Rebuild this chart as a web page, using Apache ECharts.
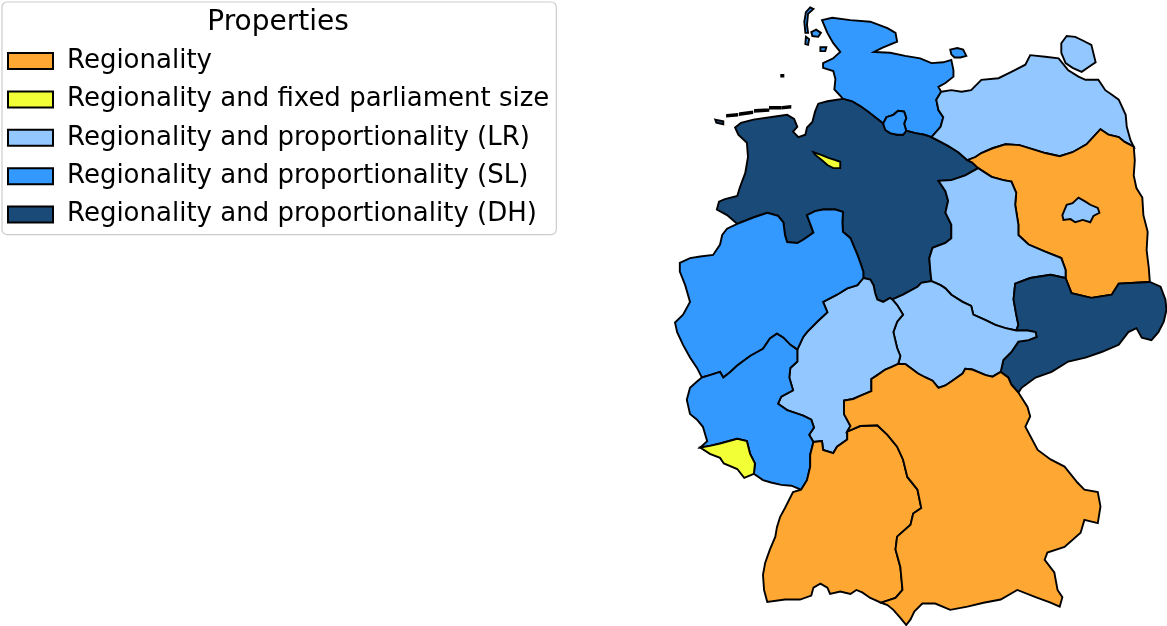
<!DOCTYPE html>
<html><head><meta charset="utf-8">
<script src="https://cdn.jsdelivr.net/npm/echarts@6/dist/echarts.min.js"></script>
<style>html,body{margin:0;padding:0;background:#fff}#c{width:1167px;height:626px}</style>
</head><body><div id="c"></div>
<script>
// ---------- legend categories & colours ----------
const categories = ['Regionality','Regionality and fixed parliament size','Regionality and proportionality (LR)','Regionality and proportionality (SL)','Regionality and proportionality (DH)'];
const categoryColors = ['#FFA733','#F2FF36','#92C8FF','#3399FF','#1A4A78'];
// ---------- which state has which property ----------
const regionality = ['Brandenburg','Baden-Württemberg','Bayern'];
const fixedSize = ['Bremen','Saarland'];
const proportionalityLR = ['Mecklenburg-Vorpommern','Berlin','Sachsen-Anhalt','Hessen','Thüringen'];
const proportionalitySL = ['Schleswig-Holstein','Hamburg','Nordrhein-Westfalen','Rheinland-Pfalz'];
const proportionalityDH = ['Niedersachsen','Sachsen'];

// ---------- simplified state borders (lon, lat) ----------
const arcShOuter = [[9.00,53.88],[8.95,53.92],[8.84,54.00],[8.86,54.13],[8.82,54.23],[8.63,54.27],[8.63,54.33],[8.82,54.39],[8.95,54.47],[8.82,54.58],[8.71,54.71],[8.61,54.87],[8.80,54.90],[9.14,54.87],[9.51,54.85],[9.83,54.77],[9.98,54.71],[10.01,54.60],[9.73,54.52],[9.58,54.47],[9.88,54.46],[10.16,54.42],[10.44,54.39],[10.65,54.33],[10.87,54.34],[11.02,54.37],[11.06,54.24],[11.06,54.16],[10.91,54.08],[10.78,54.03],[10.83,53.97]];
const arcShMv = [[10.83,53.97],[10.74,53.87],[10.78,53.74],[10.87,53.65],[10.82,53.53],[10.65,53.40]];
const arcShNiEast = [[10.18,53.48],[10.35,53.45],[10.52,53.43],[10.65,53.40]];
const arcShHh = [[9.75,53.57],[9.81,53.65],[9.94,53.68],[10.03,53.73],[10.14,53.72],[10.18,53.64],[10.14,53.57],[10.18,53.48]];
const arcHhNi = [[9.75,53.57],[9.79,53.49],[9.88,53.45],[10.01,53.43],[10.12,53.43],[10.18,53.48]];
const arcShNiWest = [[9.00,53.88],[9.17,53.85],[9.32,53.79],[9.47,53.72],[9.62,53.64],[9.75,53.57]];
const arcNiCoast = [[6.99,53.52],[7.10,53.58],[7.33,53.62],[7.64,53.65],[7.96,53.68],[8.09,53.63],[8.15,53.53],[8.07,53.47],[8.17,53.40],[8.30,53.43],[8.33,53.52],[8.43,53.59],[8.48,53.72],[8.54,53.82],[8.71,53.85],[8.89,53.87],[9.00,53.88]];
const arcNiNl = [[6.99,53.52],[7.05,53.43],[7.21,53.33],[7.23,53.15],[7.18,52.95],[7.08,52.77],[7.03,52.66],[6.80,52.62],[6.69,52.59],[6.65,52.49],[6.84,52.42],[7.03,52.31]];
const arcNiNrw = [[7.03,52.31],[7.33,52.39],[7.59,52.45],[7.79,52.41],[7.89,52.33],[7.92,52.17],[7.96,52.08],[8.15,52.07],[8.26,52.11],[8.45,52.20],[8.39,52.31],[8.33,52.42],[8.48,52.47],[8.63,52.49],[8.86,52.49],[9.00,52.46],[8.99,52.33],[9.00,52.21],[9.14,52.13],[9.19,52.05],[9.27,51.92],[9.32,51.83],[9.38,51.71],[9.38,51.63]];
const arcNiHe = [[9.38,51.63],[9.51,51.61],[9.57,51.54],[9.60,51.44],[9.64,51.36],[9.75,51.33],[9.88,51.38],[9.92,51.36]];
const arcNiTh = [[9.92,51.36],[10.12,51.42],[10.39,51.52],[10.46,51.57],[10.65,51.59]];
const arcNiSt = [[10.65,51.59],[10.63,51.71],[10.61,51.88],[10.67,52.01],[10.91,52.07],[11.02,52.13],[11.02,52.30],[10.91,52.45],[10.96,52.60],[10.91,52.72],[10.78,52.85],[11.02,52.86],[11.28,52.92],[11.52,53.01]];
const arcNiBb = [[11.52,53.01],[11.41,53.08],[11.32,53.11]];
const arcNiMv = [[11.32,53.11],[11.15,53.21],[10.96,53.29],[10.82,53.34],[10.65,53.40]];
const arcMvCoast = [[10.83,53.97],[11.02,53.99],[11.21,53.97],[11.39,53.99],[11.58,54.12],[11.90,54.14],[12.14,54.22],[12.40,54.31],[12.49,54.43],[12.77,54.41],[13.02,54.39],[13.20,54.24],[13.39,54.16],[13.52,54.12],[13.76,54.12],[13.89,53.99],[14.02,53.93],[14.14,53.87],[14.19,53.80]];
const arcMvPl = [[14.19,53.80],[14.27,53.68],[14.29,53.53],[14.36,53.36],[14.42,53.28]];
const arcMvBb = [[11.32,53.11],[11.47,53.15],[11.58,53.20],[11.79,53.26],[12.03,53.31],[12.29,53.30],[12.53,53.25],[12.77,53.20],[13.04,53.16],[13.28,53.21],[13.54,53.31],[13.80,53.50],[13.95,53.43],[14.14,53.40],[14.25,53.34],[14.42,53.28]];
const arcBbPl = [[14.42,53.28],[14.44,53.11],[14.42,52.92],[14.47,52.76],[14.58,52.64],[14.60,52.42],[14.68,52.21],[14.66,51.98],[14.70,51.76],[14.72,51.58]];
const arcBbSn = [[13.15,51.63],[13.26,51.44],[13.63,51.38],[14.01,51.42],[14.14,51.56],[14.45,51.57],[14.72,51.58]];
const arcStBb = [[11.52,53.01],[11.77,52.90],[11.99,52.86],[12.14,52.84],[12.23,52.70],[12.21,52.55],[12.27,52.30],[12.27,52.17],[12.46,52.05],[12.77,51.96],[13.07,51.88],[13.15,51.73],[13.15,51.63]];
const arcStSn = [[13.15,51.63],[12.87,51.67],[12.49,51.63],[12.21,51.56],[12.18,51.36],[12.23,51.17],[12.27,51.04],[12.23,50.97]];
const arcStTh = [[10.65,51.59],[10.82,51.54],[10.91,51.50],[11.02,51.42],[11.23,51.33],[11.39,51.28],[11.43,51.17],[11.66,51.10],[11.84,51.04],[12.03,51.00],[12.23,50.97]];
const arcSnTh = [[12.23,50.97],[12.44,50.97],[12.59,50.95],[12.61,50.89],[12.46,50.85],[12.27,50.83],[12.14,50.70],[11.99,50.60],[11.94,50.45]];
const arcSnBy = [[11.94,50.45],[12.08,50.38],[12.14,50.29],[12.27,50.19]];
const arcSnCz = [[12.27,50.19],[12.33,50.25],[12.59,50.38],[12.89,50.45],[13.20,50.58],[13.52,50.63],[13.82,50.70],[14.14,50.79],[14.32,50.95],[14.47,51.00],[14.57,50.88],[14.75,50.85],[14.88,50.95],[14.98,51.08],[15.03,51.23],[15.01,51.36],[14.92,51.52],[14.72,51.58]];
const arcThBy = [[10.03,50.55],[10.16,50.55],[10.40,50.43],[10.54,50.38],[10.67,50.34],[10.78,50.25],[10.91,50.28],[11.04,50.34],[11.23,50.43],[11.28,50.49],[11.41,50.48],[11.66,50.41],[11.79,50.39],[11.94,50.45]];
const arcHeTh = [[9.92,51.36],[10.01,51.29],[10.12,51.17],[10.01,51.08],[9.94,50.95],[10.01,50.75],[10.07,50.65],[10.03,50.55]];
const arcHeBy = [[10.03,50.55],[9.90,50.51],[9.79,50.48],[9.62,50.40],[9.53,50.36],[9.53,50.21],[9.32,50.15],[9.19,50.11],[9.02,50.09],[9.02,49.92],[9.14,49.77],[9.08,49.70]];
const arcBwBy = [[9.08,49.70],[9.32,49.77],[9.64,49.78],[9.83,49.66],[10.01,49.51],[10.12,49.35],[10.20,49.13],[10.39,48.97],[10.46,48.74],[10.31,48.67],[10.26,48.53],[10.01,48.38],[9.98,48.22],[10.07,48.00],[10.11,47.71],[9.98,47.61],[9.71,47.55]];
const arcBySouth = [[9.71,47.55],[9.83,47.52],[9.94,47.46],[10.07,47.36],[10.18,47.27],[10.26,47.34],[10.33,47.44],[10.48,47.54],[10.72,47.54],[11.00,47.46],[11.32,47.50],[11.62,47.55],[11.94,47.59],[12.25,47.71],[12.59,47.62],[12.87,47.55],[13.04,47.50],[13.09,47.62],[13.00,47.71],[12.94,47.93],[12.76,48.09],[12.81,48.18],[13.13,48.25],[13.43,48.43],[13.50,48.59],[13.75,48.55],[13.80,48.76],[13.75,48.94],[13.50,48.97],[13.37,49.06],[13.13,49.26],[12.87,49.35],[12.63,49.47],[12.40,49.76],[12.49,49.89],[12.44,50.01],[12.27,50.19]];
const arcHeBw = [[9.08,49.70],[9.08,49.60],[8.89,49.51],[8.82,49.43],[8.63,49.47],[8.61,49.58],[8.45,49.57]];
const arcRpBw = [[8.45,49.57],[8.39,49.41],[8.39,49.26],[8.33,49.09],[8.22,48.97]];
const arcBwWestSouth = [[8.22,48.97],[8.07,48.94],[7.92,48.74],[7.83,48.63],[7.77,48.50],[7.74,48.38],[7.64,48.22],[7.55,48.05],[7.51,47.90],[7.53,47.71],[7.59,47.56],[7.92,47.59],[8.20,47.59],[8.41,47.64],[8.45,47.74],[8.58,47.79],[8.71,47.74],[8.76,47.66],[8.95,47.69],[9.14,47.66],[9.25,47.71],[9.36,47.68],[9.51,47.61],[9.71,47.55]];
const arcHeRp = [[8.15,50.73],[8.15,50.58],[8.02,50.50],[8.00,50.38],[8.07,50.22],[7.85,50.14],[7.79,50.05],[7.96,49.97],[8.26,49.90],[8.41,49.85],[8.46,49.75],[8.37,49.66],[8.45,49.57]];
const arcNrwHe = [[8.15,50.73],[8.26,50.89],[8.33,50.95],[8.52,51.08],[8.71,51.20],[8.63,51.33],[8.89,51.42],[9.08,51.50],[9.27,51.54],[9.38,51.63]];
const arcNrwRp = [[6.37,50.38],[6.52,50.41],[6.71,50.45],[6.77,50.38],[6.90,50.45],[7.03,50.53],[7.27,50.65],[7.51,50.74],[7.64,50.87],[7.77,50.93],[7.89,50.88],[8.02,50.79],[8.15,50.73]];
const arcNrwWest = [[7.03,52.31],[6.84,52.25],[6.75,52.17],[6.71,52.05],[6.58,51.92],[6.34,51.90],[6.15,51.88],[5.96,51.82],[5.96,51.71],[6.06,51.54],[6.15,51.33],[6.02,51.17],[5.87,51.07],[5.91,50.95],[6.02,50.79],[6.15,50.63],[6.28,50.50],[6.37,50.38]];
const arcRpWest = [[6.37,50.38],[6.28,50.33],[6.15,50.25],[6.09,50.10],[6.15,49.92],[6.28,49.85],[6.39,49.76],[6.47,49.58],[6.34,49.50]];
const arcRpSl = [[6.34,49.50],[6.52,49.52],[6.71,49.55],[7.03,49.61],[7.21,49.58],[7.27,49.42],[7.36,49.30],[7.34,49.17]];
const arcSlFr = [[7.34,49.17],[7.16,49.12],[7.03,49.23],[6.78,49.30],[6.71,49.37],[6.52,49.42],[6.34,49.50]];
const arcRpFr = [[7.34,49.17],[7.51,49.09],[7.66,49.06],[7.85,49.03],[8.04,49.02],[8.22,48.97]];
const ringBerlin = [[13.09,52.42],[13.17,52.55],[13.28,52.57],[13.39,52.64],[13.52,52.59],[13.61,52.55],[13.75,52.51],[13.78,52.45],[13.67,52.41],[13.61,52.33],[13.47,52.36],[13.33,52.33],[13.24,52.37],[13.11,52.36]];
const ringBremen = [[8.45,53.21],[8.58,53.18],[8.73,53.14],[8.86,53.11],[8.95,53.09],[8.95,53.01],[8.82,53.01],[8.71,53.05],[8.61,53.11],[8.48,53.18]];
const islandsSH = [
  [[8.39,55.03],[8.45,55.01],[8.35,54.95],[8.33,54.81],[8.35,54.71],[8.30,54.71],[8.28,54.85],[8.31,54.97]],
  [[8.41,54.72],[8.50,54.75],[8.59,54.71],[8.54,54.66],[8.43,54.67]],
  [[8.31,54.66],[8.37,54.63],[8.35,54.56],[8.30,54.57]],
  [[8.58,54.53],[8.69,54.53],[8.67,54.48],[8.58,54.48]],
  [[11.00,54.50],[11.13,54.52],[11.24,54.50],[11.30,54.42],[11.19,54.40],[11.08,54.40],[11.02,54.44]],
  [[7.85,54.18],[7.89,54.18],[7.89,54.16],[7.85,54.16]]
];
const islandsMV = [
  [[13.07,54.58],[13.17,54.67],[13.33,54.66],[13.45,54.62],[13.63,54.56],[13.71,54.34],[13.58,54.28],[13.45,54.22],[13.28,54.27],[13.15,54.33],[13.07,54.46]]
];
const islandsNI = [
  [[6.62,53.62],[6.77,53.60],[6.77,53.56],[6.64,53.58]],
  [[6.84,53.68],[7.03,53.69],[7.03,53.67],[6.84,53.66]],
  [[7.08,53.70],[7.31,53.72],[7.31,53.70],[7.08,53.68]],
  [[7.36,53.74],[7.61,53.75],[7.61,53.73],[7.36,53.72]],
  [[7.64,53.78],[7.83,53.78],[7.83,53.76],[7.64,53.76]],
  [[7.87,53.78],[8.02,53.79],[8.02,53.77],[7.87,53.76]]
];

// ---------- assemble GeoJSON from shared arcs ----------
function ring(parts) {
  const out = [];
  parts.forEach(function (p) {
    const pts = p[1] ? p[0].slice().reverse() : p[0];
    pts.forEach(function (pt, i) { if (out.length && i === 0) return; out.push(pt); });
  });
  out.push(out[0]);
  return out;
}
function closed(r) { return r.concat([r[0]]); }
function feature(name, rings) {
  return { type: 'Feature', properties: { name: name },
    geometry: { type: 'MultiPolygon', coordinates: rings.map(function (r) { return [r]; }) } };
}
const F = false, R = true;
const features = [
  feature('Schleswig-Holstein', [ring([[arcShOuter,F],[arcShMv,F],[arcShNiEast,R],[arcShHh,R],[arcShNiWest,R]])].concat(islandsSH.map(closed))),
  feature('Niedersachsen', [ring([[arcNiCoast,F],[arcShNiWest,F],[arcHhNi,F],[arcShNiEast,F],[arcNiMv,R],[arcNiBb,R],[arcNiSt,R],[arcNiTh,R],[arcNiHe,R],[arcNiNrw,R],[arcNiNl,R]])].concat(islandsNI.map(closed))),
  feature('Mecklenburg-Vorpommern', [ring([[arcMvCoast,F],[arcMvPl,F],[arcMvBb,R],[arcNiMv,F],[arcShMv,R]])].concat(islandsMV.map(closed))),
  feature('Brandenburg', [ring([[arcMvBb,F],[arcBbPl,F],[arcBbSn,R],[arcStBb,R],[arcNiBb,F]])]),
  feature('Sachsen-Anhalt', [ring([[arcStBb,F],[arcStSn,F],[arcStTh,R],[arcNiSt,F]])]),
  feature('Sachsen', [ring([[arcBbSn,F],[arcSnCz,R],[arcSnBy,R],[arcSnTh,R],[arcStSn,R]])]),
  feature('Thüringen', [ring([[arcStTh,F],[arcSnTh,F],[arcThBy,R],[arcHeTh,R],[arcNiTh,F]])]),
  feature('Hessen', [ring([[arcNrwHe,F],[arcNiHe,F],[arcHeTh,F],[arcHeBy,F],[arcHeBw,F],[arcHeRp,R]])]),
  feature('Nordrhein-Westfalen', [ring([[arcNrwWest,F],[arcNrwRp,F],[arcNrwHe,F],[arcNiNrw,R]])]),
  feature('Rheinland-Pfalz', [ring([[arcRpWest,F],[arcRpSl,F],[arcRpFr,F],[arcRpBw,R],[arcHeRp,R],[arcNrwRp,R]])]),
  feature('Saarland', [ring([[arcRpSl,F],[arcSlFr,F]])]),
  feature('Baden-Württemberg', [ring([[arcRpBw,F],[arcBwWestSouth,F],[arcBwBy,R],[arcHeBw,F]])]),
  feature('Bayern', [ring([[arcThBy,F],[arcSnBy,F],[arcBySouth,R],[arcBwBy,R],[arcHeBy,R]])]),
  feature('Hamburg', [ring([[arcShHh,F],[arcHhNi,R]])]),
  feature('Berlin', [closed(ringBerlin)]),
  feature('Bremen', [closed(ringBremen)])
];
echarts.registerMap('DE', { type: 'FeatureCollection', features: features });

// ---------- chart ----------
const groups = [regionality, fixedSize, proportionalityLR, proportionalitySL, proportionalityDH];
const chart = echarts.init(document.getElementById('c'), null, { renderer: 'canvas' });
const series = categories.map(function (cat, i) {
  return {
    type: 'map', name: cat, map: 'DE',
    left: 675, top: 5, width: 492, height: 620,
    boundingCoords: [[5.87, 55.06], [15.04, 47.27]],
    aspectScale: 0.674,
    roam: false, silent: true, showLegendSymbol: false,
    label: { show: false }, emphasis: { disabled: true },
    itemStyle: { borderColor: '#000', borderWidth: 1.9, areaColor: '#eee' },
    data: groups[i].map(function (n) { return { name: n, value: i }; })
  };
});
chart.setOption({
  animation: false,
  backgroundColor: '#fff',
  title: {
    text: 'Properties', left: 278, top: 9, textAlign: 'center', padding: 0,
    textStyle: { fontSize: 28, fontWeight: 'normal', fontFamily: 'DejaVu Sans', color: '#000' }
  },
  legend: {
    orient: 'vertical', left: 2, top: 2, padding: [46, 7, 7, 5],
    itemGap: 12.4, itemWidth: 45, itemHeight: 16, icon: 'rect',
    borderColor: '#cccccc', borderWidth: 1.2, borderRadius: 5, backgroundColor: '#fff',
    selectedMode: false,
    textStyle: { fontSize: 26, fontFamily: 'DejaVu Sans', color: '#000', padding: [0, 0, 0, 9] },
    itemStyle: { borderColor: '#000', borderWidth: 2 },
    data: categories.map(function (c, i) { return { name: c, itemStyle: { color: categoryColors[i], borderColor: '#000', borderWidth: 2 } }; })
  },
  visualMap: {
    type: 'piecewise', show: false, seriesIndex: [0, 1, 2, 3, 4],
    pieces: categories.map(function (c, i) { return { value: i, color: categoryColors[i] }; })
  },
  series: series
});
</script>
</body></html>
